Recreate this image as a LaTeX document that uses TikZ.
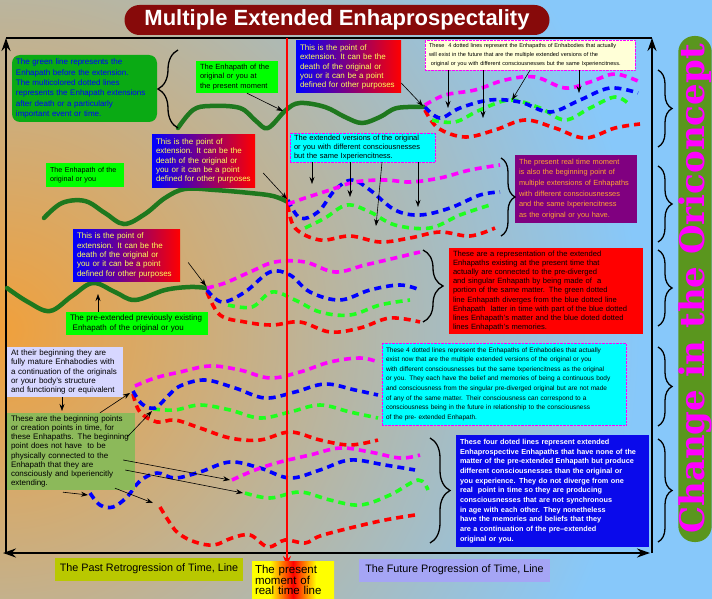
\documentclass[tikz,border=0pt]{standalone}
\usepackage{fontspec}
\setmainfont{Liberation Sans}
\newfontfamily\oriconfont{DejaVu Serif}
\usetikzlibrary{arrows.meta,positioning,decorations.pathreplacing,shapes}
\definecolor{bgorange}{RGB}{240,160,60}
\definecolor{bgblue}{RGB}{135,200,250}
\definecolor{wavegreen}{RGB}{30,120,30}
\definecolor{notegreen}{RGB}{10,170,20}
\definecolor{limegreen}{RGB}{0,255,0}
\definecolor{extyellow}{RGB}{255,255,90}
\definecolor{futureyellow}{RGB}{255,255,215}
\definecolor{purplenote}{RGB}{128,0,128}
\definecolor{orangetext}{RGB}{255,165,50}
\definecolor{lavender}{RGB}{215,215,255}
\definecolor{olivenote}{RGB}{140,185,90}
\definecolor{bluenote}{RGB}{10,10,235}
\definecolor{pastolive}{RGB}{185,200,0}
\definecolor{futurelav}{RGB}{165,165,245}
\definecolor{titlered}{RGB}{135,10,10}
\definecolor{pillgreen}{RGB}{90,150,30}
\definecolor{cyannote}{RGB}{0,255,255}
\definecolor{extblue}{RGB}{0,0,255}
\definecolor{extred}{RGB}{255,0,0}
\definecolor{bandyellow}{RGB}{255,255,0}
\definecolor{dotmagenta}{RGB}{255,0,255}
\definecolor{dotblue}{RGB}{0,0,255}
\definecolor{dotgreen}{RGB}{30,255,30}
\definecolor{dotred}{RGB}{255,0,0}
\pgfdeclarehorizontalshading{presentband}{100bp}{color(0bp)=(bandyellow); color(36bp)=(bandyellow); color(50bp)=(extred); color(64bp)=(bandyellow); color(100bp)=(bandyellow)}

\begin{document}
\begin{tikzpicture}[x=1pt, y=-1pt,
    greenwave/.style={draw=wavegreen, line width=4.5pt, line cap=round},
    extline/.style={line width=3.6pt, dash pattern=on 7pt off 5pt},
    arr/.style={-{Stealth[length=7pt,width=5pt]}, semithick},
    axisarr/.style={line width=2pt, -{Stealth[length=13pt,width=9pt]}},
    curly/.style={decorate, decoration={brace, amplitude=#1}, line width=1.3pt},
    curly/.default=14pt,
    note/.style={inner xsep=4pt, inner ysep=1pt, align=left, text=black},
    extnote/.style={note, left color=extblue, right color=extred, text=extyellow,
        font=\fontsize{8}{9.4}\selectfont, minimum height=52pt, text width=#1},
    limelabel/.style={note, fill=limegreen, font=\fontsize{7.5}{9.2}\selectfont},
    cyanbox/.style={note, fill=cyannote, draw=dotmagenta, densely dotted},
    timelabel/.style={inner xsep=3pt, font=\fontsize{10.8}{12}\selectfont, minimum height=23pt}
]
% background
\begin{scope}
  \clip (0,0) rectangle (712,599);
  \fill[bgblue] (0,0) rectangle (712,599);
  \shade[inner color=bgorange, outer color=bgblue] (0,330) circle (640pt);
\end{scope}
\useasboundingbox (0,0) rectangle (712,599);

% frame and time line
\coordinate (frameTL) at (6,38);
\coordinate (frameTR) at (652,38);
\coordinate (frameBL) at (6,553);
\coordinate (frameBR) at (652,553);
\draw[line width=2pt] (frameTL) -- (frameTR);
\draw[axisarr] (frameBL) -- (frameTL);
\draw[axisarr] (frameBR) -- (frameTR);
\draw[axisarr, {Stealth[length=13pt,width=9pt]}-{Stealth[length=13pt,width=9pt]}]
    ([xshift=-3pt]frameBL) -- ([xshift=-2pt]frameBR);

% green Enhapaths
\draw[greenwave] plot[smooth, tension=0.6] coordinates {(178,128) (193,110) (210,106) (240,108) (256,121) (268,128) (286,110) (300,103) (325,107) (345,117) (362,123) (380,117) (397,108) (425,107)};
\draw[greenwave] plot[smooth, tension=0.6] coordinates {(44,218) (62,203) (85,201) (105,213) (124,224) (145,214) (165,198) (185,189) (215,190) (250,193) (273,196) (288,202)};
\draw[greenwave] plot[smooth, tension=0.6] coordinates {(7,288) (28,302) (50,311) (72,296) (93,283) (115,292) (135,300) (165,290) (190,287) (207,288)};
\coordinate (ext1) at (425,107);
\coordinate (ext2) at (288,201);
\coordinate (ext3) at (207,288);

% group 1 (future)
\draw[extline, dotred] plot[smooth, tension=0.6] coordinates {(425,110) (438,128) (465,137) (495,130) (525,120) (555,128) (585,138) (615,128) (640,124)};
\draw[extline, dotgreen] plot[smooth, tension=0.6] coordinates {(432,120) (455,122) (480,110) (510,100) (540,108) (565,120) (590,108) (615,97) (630,105)};
\draw[extline, dotblue] plot[smooth, tension=0.6] coordinates {(425,107) (440,118) (460,108) (490,100) (520,102) (550,112) (580,100) (610,88) (638,93)};
\draw[extline, dotmagenta] plot[smooth, tension=0.6] coordinates {(425,105) (445,95) (475,90) (505,80) (535,77) (565,88) (590,82) (615,74) (640,82)};

% group 2 (present)
\draw[extline, dotred] plot[smooth, tension=0.6] coordinates {(288,205) (295,228) (320,240) (350,236) (380,242) (410,238) (440,232) (470,236) (495,228)};
\draw[extline, dotgreen] plot[smooth, tension=0.6] coordinates {(305,228) (325,218) (347,205) (370,212) (395,225) (430,228) (460,215) (490,205)};
\draw[extline, dotblue] plot[smooth, tension=0.6] coordinates {(288,200) (300,218) (318,212) (335,190) (352,180) (370,190) (395,210) (420,215) (450,208) (480,195) (500,192)};
\draw[extline, dotmagenta] plot[smooth, tension=0.6] coordinates {(288,204) (305,198) (330,190) (355,182) (385,180) (410,182) (440,178) (470,170) (500,165)};

% group 3 (past)
\draw[extline, dotred] plot[smooth, tension=0.6] coordinates {(207,292) (220,315) (245,322) (272,325) (300,322) (330,332) (360,328) (390,318) (420,322)};
\draw[extline, dotgreen] plot[smooth, tension=0.6] coordinates {(228,305) (252,307) (272,292) (295,300) (320,312) (350,315) (380,305) (410,300)};
\draw[extline, dotblue] plot[smooth, tension=0.6] coordinates {(207,290) (222,302) (245,292) (270,272) (290,275) (310,292) (340,300) (370,290) (400,285) (420,290)};
\draw[extline, dotmagenta] plot[smooth, tension=0.6] coordinates {(207,288) (225,283) (250,272) (275,262) (305,262) (335,272) (365,265) (395,258) (420,252)};

% group 4
\draw[extline, dotred] plot[smooth, tension=0.6] coordinates {(133,394) (140,412) (157,422) (175,420) (200,428) (230,438) (260,440) (290,432) (320,440) (350,445) (378,440)};
\draw[extline, dotgreen] plot[smooth, tension=0.6] coordinates {(153,409) (175,410) (200,405) (230,410) (260,418) (290,412) (320,405) (350,412) (378,418)};
\draw[extline, dotblue] plot[smooth, tension=0.6] coordinates {(133,391) (142,404) (155,408) (168,396) (180,386) (205,380) (235,388) (265,398) (295,392) (325,384) (355,390) (378,395)};
\draw[extline, dotmagenta] plot[smooth, tension=0.6] coordinates {(135,386) (155,378) (180,372) (210,366) (240,370) (270,378) (300,372) (330,362) (360,358) (378,362)};

% group 5
\draw[extline, dotred] plot[smooth, tension=0.6] coordinates {(160,507) (168,520) (178,533) (195,542) (214,545) (232,538) (250,535) (268,547) (285,540) (305,543) (320,536) (350,528) (385,520) (415,515)};
\draw[extline, dotgreen] plot[smooth, tension=0.6] coordinates {(245,493) (270,498) (300,492) (330,500) (360,505) (390,495) (418,480) (428,490)};
\draw[extline, dotblue] plot[smooth, tension=0.6] coordinates {(90,493) (100,505) (113,507) (127,497) (140,481) (157,473) (175,478) (200,472) (230,462) (260,468) (290,478) (320,470) (350,460) (385,465) (415,470)};
\draw[extline, dotmagenta] plot[smooth, tension=0.6] coordinates {(232,480) (255,470) (280,462) (310,455) (340,448) (370,452) (400,458) (420,455)};

% present moment line
\coordinate (nowtop) at (287,38);
\coordinate (nowbottom) at (287,566);
\draw[dotred, line width=2.5pt, -{Stealth[length=10pt,width=8pt]}] (nowtop) -- (nowbottom);

% notes
\node[note, fill=notegreen, rounded corners=8pt, text=blue, font=\fontsize{8}{10.3}\selectfont,
    minimum width=145pt, minimum height=67pt, text width=137pt] (greennote) at (84.5,88.5)
    {The green line represents the\\Enhapath before the extension.\\The multicolored dotted lines\\represents the Enhapath extensions\\after death or a particularly\\important event or time.};
\node[limelabel, minimum height=32pt, text width=74pt] (nowlabel) at (237,77)
    {The Enhapath of the\\original or you at\\the present moment};
\node[extnote=97pt] (extA) at (348.5,67)
    {This is the point of\\extension. It can be the\\death of the original or\\you or it can be a point\\defined for other purposes};
\node[note, fill=futureyellow, draw=dotmagenta, densely dotted, font=\fontsize{5.6}{9}\selectfont,
    minimum height=30pt, text width=202pt] (futurenote) at (530,55)
    {These\ \ 4 dotted lines represent the Enhapaths of Enhabodies that actually\\will exist in the future that are the multiple extended versions of the\\\ original or you with different consciousnesses but the same Ixperiencitness.};
\node[limelabel, font=\fontsize{7.2}{9.2}\selectfont, minimum height=24pt, text width=70pt] (originlabel) at (85,175)
    {The Enhapath of the\\original or you};
\node[extnote=95pt] (extB) at (203.5,161)
    {This is the point of\\extension. It can be the\\death of the original or\\you or it can be a point\\defined for other purposes};
\node[cyanbox, font=\fontsize{7.5}{9}\selectfont, minimum height=29pt, text width=137pt] (cyanA) at (362.5,147.5)
    {The extended versions of the original\\or you with different consciousnesses\\but the same Ixperiencitness.};
\node[note, fill=purplenote, text=orangetext, font=\fontsize{7.4}{10.7}\selectfont,
    minimum height=68pt, text width=114pt] (purplenote) at (576,189)
    {The present real time moment\\is also the beginning point of\\multiple extensions of Enhapaths\\with different consciousnesses\\and the same Ixperiencitness\\as the original or you have.};
\node[extnote=99pt] (extC) at (126.5,255.5)
    {This is the point of\\extension. It can be the\\death of the original or\\you or it can be a point\\defined for other purposes};
\node[limelabel, font=\fontsize{8}{10}\selectfont, minimum height=23pt, text width=134pt] (preextlabel) at (137,323.5)
    {The pre-extended previously existing\\\ Enhapath of the original or you};
\node[note, fill=extred, font=\fontsize{7.6}{9.2}\selectfont, minimum height=86pt, text width=186pt] (rednote) at (546,291)
    {These are a representation of the extended\\Enhapaths existing at the present time that\\actually are connected to the pre-diverged\\and singular Enhapath by being made of\ \ a\\portion of the same matter. The green dotted\\line Enhapath diverges from the blue dotted line\\Enhapath\ \ latter in time with part of the blue dotted\\lines Enhapath's matter and the blue doted dotted\\lines Enhapath's memories.};
\node[note, fill=lavender, font=\fontsize{8}{9.2}\selectfont, minimum height=50pt, text width=108pt] (lavnote) at (65,372)
    {At their beginning they are\\fully mature Enhabodies with\\a continuation of the originals\\or your body's structure\\and functioning or equivalent};
\node[note, fill=olivenote, font=\fontsize{8}{9.2}\selectfont, minimum height=77pt, text width=120pt] (olivenote) at (71,451.5)
    {These are the beginning points\\or creation points in time, for\\these Enhapaths. The beginning\\point does not have\ \ to be\\physically connected to the\\Enhapath that they are\\consciously and Ixperiencitly\\extending.};
\node[cyanbox, font=\fontsize{6.5}{9.6}\selectfont, minimum height=82pt, text width=236pt] (cyanB) at (504,384)
    {These 4 dotted lines represent the Enhapaths of Enhabodies that actually\\exist now that are the multiple extended versions of the original or you\\with different consciousnesses but the same Ixperiencitness as the original\\or you. They each have the belief and memories of being a continuous body\\and consciousness from the singular pre-diverged original but are not made\\of any of the same matter. Their consciousness can correspond to a\\consciousness being in the future in relationship to the consciousness\\of the pre- extended Enhapath.};
\node[note, fill=bluenote, text=white, font=\bfseries\fontsize{7.3}{9.7}\selectfont,
    minimum height=112pt, text width=185pt] (bluenote) at (552.5,491)
    {These four doted lines represent extended\\Enhaprospective Enhapaths that have none of the\\matter of the pre-extended Enhapath but produce\\different consciousnesses than the original or\\you experience. They do not diverge from one\\real\ \ point in time so they are producing\\consciousnesses that are not synchronous\\in age with each other. They nonetheless\\have the memories and beliefs that they\\are a continuation of the pre–extended\\original or you.};

% time labels
\node[timelabel, fill=pastolive, minimum width=188pt] (pastlabel) at (149,569)
    {The Past Retrogression of Time, Line};
\node[timelabel, fill=futurelav, minimum width=191pt] (futurelabel) at (454.5,570)
    {The Future Progression of Time, Line};
\node[shading=presentband, align=left, inner xsep=3pt, inner ysep=0pt, minimum width=82pt, minimum height=38pt,
    font=\fontsize{11.5}{10.8}\selectfont, text width=76pt] (nowbox) at (293,580)
    {The present\\moment of\\real time line};

% pointers
\coordinate (wavehit) at (283,111);
\draw[arr] ([xshift=10pt]nowlabel.south) -- (wavehit);
\draw[arr] ([yshift=-16pt]extA.east) -- ([xshift=-2pt,yshift=1pt]ext1);
\draw[arr] ([xshift=8pt,yshift=-12pt]extB.east) -- ([xshift=-1pt,yshift=2pt]ext2);
\draw[arr] ([xshift=8pt,yshift=-7pt]extC.east) -- ([xshift=-1pt,yshift=2pt]ext3);
\coordinate (prehit) at (98,294);
\draw[arr] ([xshift=-39pt]preextlabel.north) -- (prehit);
\coordinate (fut1) at (448,108);
\coordinate (fut2) at (483,118);
\coordinate (fut3) at (512,100);
\coordinate (fut4) at (579,93);
\draw[arr] ([xshift=-82pt]futurenote.south) -- (fut1);
\draw[arr] ([xshift=-47pt]futurenote.south) -- (fut2);
\draw[arr] (futurenote.south) -- (fut3);
\draw[arr] ([xshift=49pt]futurenote.south) -- (fut4);
\coordinate (cy1) at (312,184);
\coordinate (cy2) at (350,197);
\coordinate (cy3) at (376,226);
\coordinate (cy4) at (418,207);
\draw[arr] ([xshift=-50.5pt]cyanA.south) -- (cy1);
\draw[arr] ([xshift=-12.5pt]cyanA.south) -- (cy2);
\draw[arr] ([xshift=19.5pt]cyanA.south) -- (cy3);
\draw[arr] ([xshift=55.5pt]cyanA.south) -- (cy4);
\coordinate (lavhit) at (62,411);
\draw[arr] ([xshift=-3pt]lavnote.south) -- (lavhit);
\coordinate (beg1) at (130,393);
\coordinate (beg2) at (152,411);
\coordinate (beg3) at (230,480);
\coordinate (beg4) at (243,493);
\coordinate (beg5) at (153,503);
\coordinate (beg6) at (88,495);
\draw[arr] ([xshift=29pt]olivenote.north) -- (beg1);
\draw[arr] ([xshift=-8pt,yshift=14.5pt]olivenote.east) -- (beg2);
\draw[arr] ([xshift=-12pt,yshift=-8.5pt]olivenote.east) -- (beg3);
\draw[arr] ([xshift=-10pt,yshift=-18.5pt]olivenote.east) -- (beg4);
\draw[arr] ([xshift=44pt,yshift=2pt]olivenote.south) -- (beg5);
\draw[arr] ([xshift=-8pt,yshift=-2pt]olivenote.south) -- (beg6);

% braces
\draw[curly=20pt] (178,128) -- (178,50);
\draw[curly] (501,158) -- (501,236);
\draw[curly=20pt] (423,250) -- (423,322);
\draw[curly=20pt] (430,438) -- (430,543);
\foreach \top/\bot in {70/147, 166/242, 250/326, 347/426, 439/542}
  \draw[curly] (658,\top) -- (658,\bot);

% title and side banner
\node[fill=titlered, rounded corners=15pt, minimum width=425pt, minimum height=30pt, text=white,
    font=\bfseries\fontsize{22}{22}\selectfont] (title) at (337,20) {Multiple Extended Enhaprospectality};
\node[rotate=90, fill=pillgreen, rounded corners=16pt, minimum width=506pt, minimum height=33pt,
    inner sep=0pt, text=dotmagenta, font=\oriconfont\bfseries\fontsize{34}{34}\selectfont] (oriconcept) at (695,289)
    {Change in the Oriconcept};
\end{tikzpicture}
\end{document}
